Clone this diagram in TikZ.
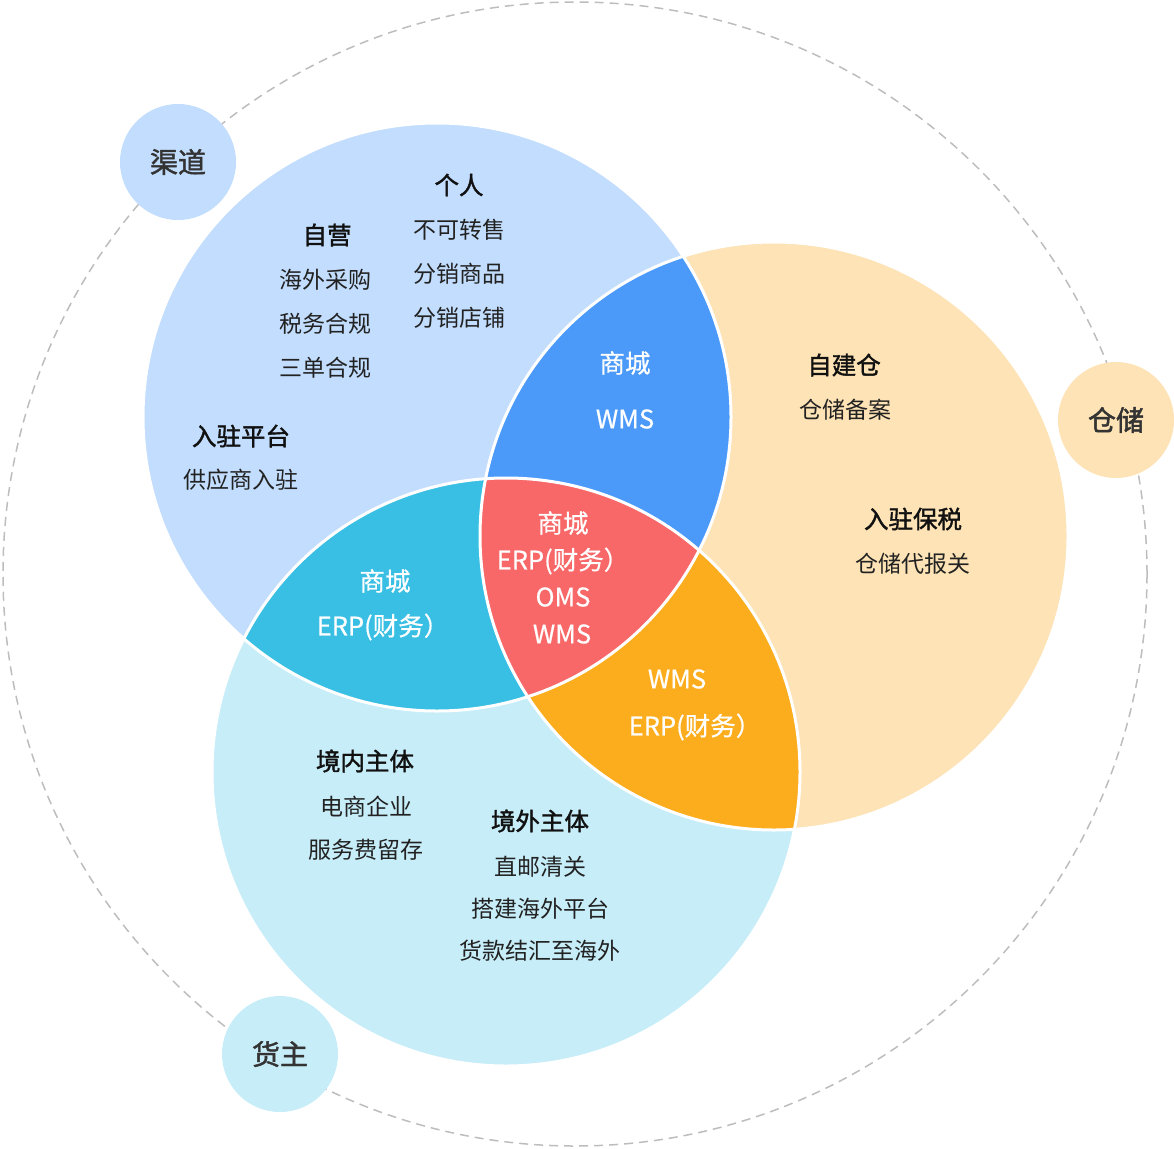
\documentclass[tikz,border=0pt]{standalone}
\usepackage{fontspec}
\setmainfont{Noto Sans CJK SC}
\newfontfamily\semifont[FakeBold=1.6]{Noto Sans CJK SC}
\newfontfamily\medfont[FakeBold=0.7]{Noto Sans CJK SC}
\definecolor{lblue}{HTML}{C2DDFD}
\definecolor{lpeach}{HTML}{FDE3B5}
\definecolor{lcyan}{HTML}{C7EDF8}
\definecolor{dblue}{HTML}{4B9AF9}
\definecolor{dcyan}{HTML}{38BFE3}
\definecolor{dorange}{HTML}{FCAD1E}
\definecolor{dred}{HTML}{F86868}
\definecolor{dashgray}{HTML}{BDBDBD}
\definecolor{txt}{HTML}{222222}
\definecolor{tagtxt}{HTML}{333333}
\definecolor{hd}{HTML}{111111}
\tikzset{
  ring/.style={draw=dashgray, line width=1.5pt, dash pattern=on 9pt off 6pt},
  sep/.style={draw=white, line width=3pt},
  tag/.style={circle, minimum size=116pt, inner sep=0pt, text=tagtxt, font=\fontsize{28}{32}\semifont},
  head/.style={text=hd, font=\fontsize{24.5}{28}\semifont, inner sep=0pt},
  item/.style={text=txt, font=\fontsize{23}{27}\selectfont, inner sep=0pt},
  wt/.style={text=white, font=\fontsize{25.5}{29}\medfont, inner sep=0pt}
}
\begin{document}
\begin{tikzpicture}[x=1pt,y=-1pt]
\useasboundingbox (0,0) rectangle (1174,1148);
\coordinate (B) at (437,417);
\coordinate (O) at (774,536);
\coordinate (C) at (506,772);
\coordinate (R) at (575,574);
\draw[ring] (R) circle[radius=572pt];
% light circles
\fill[lblue] (B) circle[radius=294pt];
\fill[lpeach] (O) circle[radius=294pt];
\fill[lcyan] (C) circle[radius=294pt];
% pair lenses
\begin{scope}
  \clip (O) circle[radius=294pt];
  \fill[dorange] (C) circle[radius=294pt];
\end{scope}
\begin{scope}
  \clip (B) circle[radius=294pt];
  \fill[dblue] (O) circle[radius=294pt];
  \fill[dcyan] (C) circle[radius=294pt];
  \clip (O) circle[radius=294pt];
  \fill[dred] (C) circle[radius=294pt];
\end{scope}
% white separators
\draw[sep] (B) circle[radius=294pt];
\draw[sep] (O) circle[radius=294pt];
\draw[sep] (C) circle[radius=294pt];
% tags
\node[tag, fill=lblue] (qd) at (178,162) {渠道};
\node[tag, fill=lpeach] (cc) at (1116,420) {仓储};
\node[tag, fill=lcyan] (hz) at (280,1054) {货主};
% channel texts
\node[head] (gr) at (459,185) {个人};
\node[item] (gr1) at (459,230) {不可转售};
\node[item] (gr2) at (459,274) {分销商品};
\node[item] (gr3) at (459,318) {分销店铺};
\node[head] (zy) at (327,235) {自营};
\node[item] (zy1) at (325,280) {海外采购};
\node[item] (zy2) at (325,324) {税务合规};
\node[item] (zy3) at (325,368) {三单合规};
\node[head] (rz) at (241,436) {入驻平台};
\node[item] (rz1) at (241,480) {供应商入驻};
% warehouse texts
\node[head] (zj) at (844,365) {自建仓};
\node[item] (zj1) at (845,410) {仓储备案};
\node[head] (bs) at (913,519) {入驻保税};
\node[item] (bs1) at (913,564) {仓储代报关};
% owner texts
\node[head] (jn) at (365,761) {境内主体};
\node[item] (jn1) at (366,807) {电商企业};
\node[item] (jn2) at (366,850) {服务费留存};
\node[head] (jw) at (540,821) {境外主体};
\node[item] (jw1) at (540,867) {直邮清关};
\node[item] (jw2) at (540,909) {搭建海外平台};
\node[item] (jw3) at (540,951) {货款结汇至海外};
% lens texts
\node[wt] (bo1) at (625,363) {商城};
\node[wt] (bo2) at (625,419) {WMS};
\node[wt] (bc1) at (385,581) {商城};
\node[wt] (bc2) at (383,627) {ERP(财务）};
\node[wt] (oc1) at (677,679) {WMS};
\node[wt] (oc2) at (695,727) {ERP(财务）};
\node[wt] (r1) at (563,523) {商城};
\node[wt] (r2) at (563,561) {ERP(财务）};
\node[wt] (r3) at (563,597) {OMS};
\node[wt] (r4) at (562,634) {WMS};
\end{tikzpicture}
\end{document}
